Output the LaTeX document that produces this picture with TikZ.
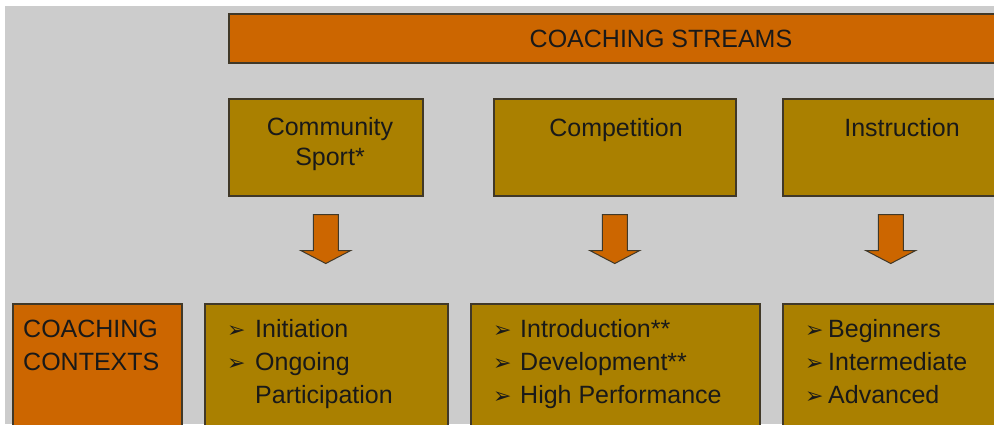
\documentclass[tikz,border=0pt]{standalone}
\usepackage{fontspec}
\setmainfont{Liberation Sans}
\newfontfamily\symfont{DejaVu Sans}
\usetikzlibrary{calc}
\definecolor{greybg}{RGB}{204,204,204}
\definecolor{rust}{RGB}{204,102,0}
\definecolor{ochre}{RGB}{170,128,0}
\definecolor{edge}{RGB}{64,56,40}
% arrow bullet in front of the list items
\newcommand{\bul}[1][27pt]{\makebox[#1][l]{\symfont\fontsize{22}{22}\selectfont ➢}}
\tikzset{
  box/.style={draw=edge, line width=1.5pt, fill=ochre, anchor=north west, inner sep=0pt},
  bar/.style={box, fill=rust},
  txt/.style={inner sep=0pt, anchor=base, align=center, text=black!90, font=\fontsize{25}{30}\selectfont},
  list/.style={txt, anchor=base west, align=left, font=\fontsize{25}{33}\selectfont},
  blockarrow/.style={draw=edge, line width=1pt, fill=rust, line join=miter},
}
\begin{document}
\begin{tikzpicture}[x=1pt,y=1pt,yscale=-1]
\useasboundingbox (0,0) rectangle (994,424);
\clip (0,0) rectangle (994,424);
\fill[greybg] (5,6) rectangle (994,424);
% streams (text nodes sit on the baseline of their last line)
\node[bar, minimum width=780, minimum height=49] (streams) at (228,13) {};
\node[txt] (streams-txt) at (661,47) {COACHING STREAMS};
\node[box, minimum width=194, minimum height=97] (comm) at (228,98) {};
\node[box, minimum width=242, minimum height=97] (comp) at (493,98) {};
\node[box, minimum width=216, minimum height=97] (instr) at (782,98) {};
\node[txt] (comm-txt) at (330,165) {Community\\Sport*};
\node[txt] (comp-txt) at (616,136) {Competition};
\node[txt] (instr-txt) at (902,136) {Instruction};
% block arrows under the streams
\foreach \n in {comm,comp,instr}
  \draw[blockarrow] ($(\n.south)+(-12.5,18)$) -- ($(\n.south)+(12.5,18)$)
    -- ($(\n.south)+(12.5,54)$) -- ($(\n.south)+(25,54)$) -- ($(\n.south)+(0,67)$)
    -- ($(\n.south)+(-25,54)$) -- ($(\n.south)+(-12.5,54)$) -- cycle;
% contexts
\node[bar, minimum width=169, minimum height=140] (contexts) at (12,303) {};
\node[box, minimum width=243, minimum height=140] (ctx-comm) at (204,303) {};
\node[box, minimum width=289, minimum height=140] (ctx-comp) at (470,303) {};
\node[box, minimum width=230, minimum height=140] (ctx-instr) at (782,303) {};
\node[list] (contexts-txt) at (23,370) {COACHING\\CONTEXTS};
\node[list] (comm-list) at (227,403) {\bul[28pt]Initiation\\\bul[28pt]Ongoing\\\hspace*{28pt}Participation};
\node[list] (comp-list) at (493,403) {\bul Introduction**\\\bul Development**\\\bul High Performance};
\node[list] (instr-list) at (805,403) {\bul[23pt]Beginners\\\bul[23pt]Intermediate\\\bul[23pt]Advanced};
\end{tikzpicture}
\end{document}
